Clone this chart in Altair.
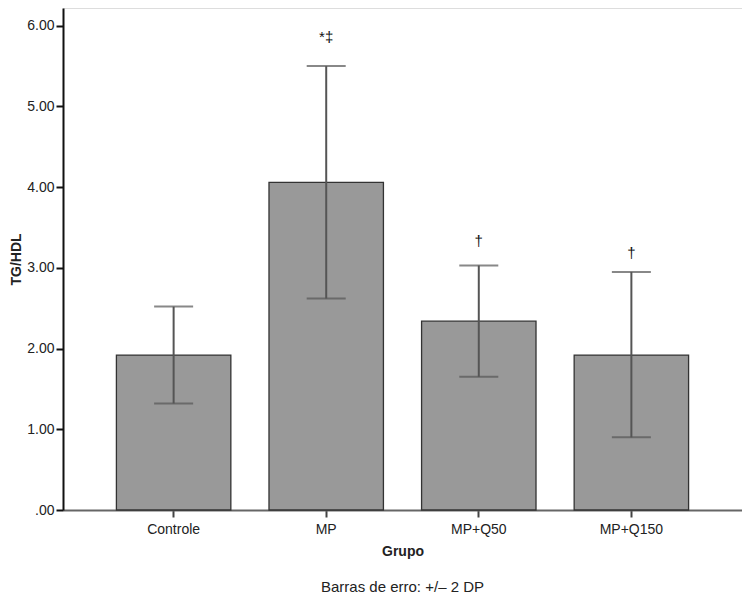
import altair as alt
import pandas as pd

categories = ["Controle", "MP", "MP+Q50", "MP+Q150"]
means = [1.92, 4.06, 2.34, 1.92]
lower = [1.32, 2.62, 1.65, 0.90]
upper = [2.52, 5.50, 3.03, 2.95]
marks = ["", "*‡", "†", "†"]
mark_y = [None, 5.86, 3.33, 3.19]

df = pd.DataFrame({
    "Grupo": categories,
    "mean": means,
    "lo": lower,
    "hi": upper,
    "sig": marks,
    "sig_y": mark_y,
})

FONT = "Liberation Sans"

x_enc = alt.X(
    "Grupo:N",
    sort=categories,
    title="Grupo",
    scale=alt.Scale(paddingInner=0.25, paddingOuter=0.35),
    axis=alt.Axis(
        labelAngle=0,
        labelFont=FONT,
        labelFontSize=14,
        labelColor="#222222",
        titleFont=FONT,
        titleFontSize=14,
        titleFontWeight="bold",
        titleColor="#222222",
        titlePadding=8,
        tickSize=7,
        tickColor="#444444",
        tickWidth=2,
        domainColor="#666666",
        domainWidth=2,
        labelPadding=5,
    ),
)

y_scale = alt.Scale(domain=[0, 6.22], nice=False, zero=True)

bars = alt.Chart(df).mark_bar(
    color="#999999", stroke="#333333", strokeWidth=1.3
).encode(
    x=x_enc,
    y=alt.Y(
        "mean:Q",
        scale=y_scale,
        title="TG/HDL",
        axis=alt.Axis(
            values=[0, 1, 2, 3, 4, 5, 6],
            labelExpr="datum.value == 0 ? '.00' : format(datum.value, '.2f')",
            labelFont=FONT,
            labelFontSize=14,
            labelColor="#222222",
            titleFont=FONT,
            titleFontSize=14,
            titleFontWeight="bold",
            titleColor="#222222",
            titlePadding=3,
            tickSize=7,
            tickColor="#111111",
            tickWidth=2,
            domainColor="#111111",
            domainWidth=2,
            grid=False,
            labelPadding=2,
        ),
    ),
)

err = alt.Chart(df).mark_rule(color="#555555", strokeWidth=2).encode(
    x=alt.X("Grupo:N", sort=categories),
    y=alt.Y("lo:Q", scale=y_scale),
    y2="hi:Q",
)

cap_lo = alt.Chart(df).mark_tick(color="#555555", thickness=2, size=39).encode(
    x=alt.X("Grupo:N", sort=categories),
    y=alt.Y("lo:Q", scale=y_scale),
)
cap_hi = alt.Chart(df).mark_tick(color="#555555", thickness=2, size=39).encode(
    x=alt.X("Grupo:N", sort=categories),
    y=alt.Y("hi:Q", scale=y_scale),
)

sig = alt.Chart(df).transform_filter("datum.sig != ''").mark_text(
    font=FONT, fontSize=15, color="#111111", baseline="middle"
).encode(
    x=alt.X("Grupo:N", sort=categories),
    y=alt.Y("sig_y:Q", scale=y_scale),
    text="sig:N",
)

chart = alt.layer(bars, err, cap_lo, cap_hi, sig).properties(
    width=679,
    height=502,
    title=alt.TitleParams(
        "Barras de erro: +/– 2 DP",
        orient="bottom",
        anchor="middle",
        font=FONT,
        fontSize=15,
        fontWeight="normal",
        color="#222222",
        offset=22,
    ),
    autosize=alt.AutoSizeParams(type="none"),
    padding={"left": 55, "top": 0, "right": 0, "bottom": 85},
).configure_view(
    stroke="#777777", strokeWidth=1.5
).configure(background="white")

chart.save("out.html", embed_options={"renderer": "svg", "actions": False})
